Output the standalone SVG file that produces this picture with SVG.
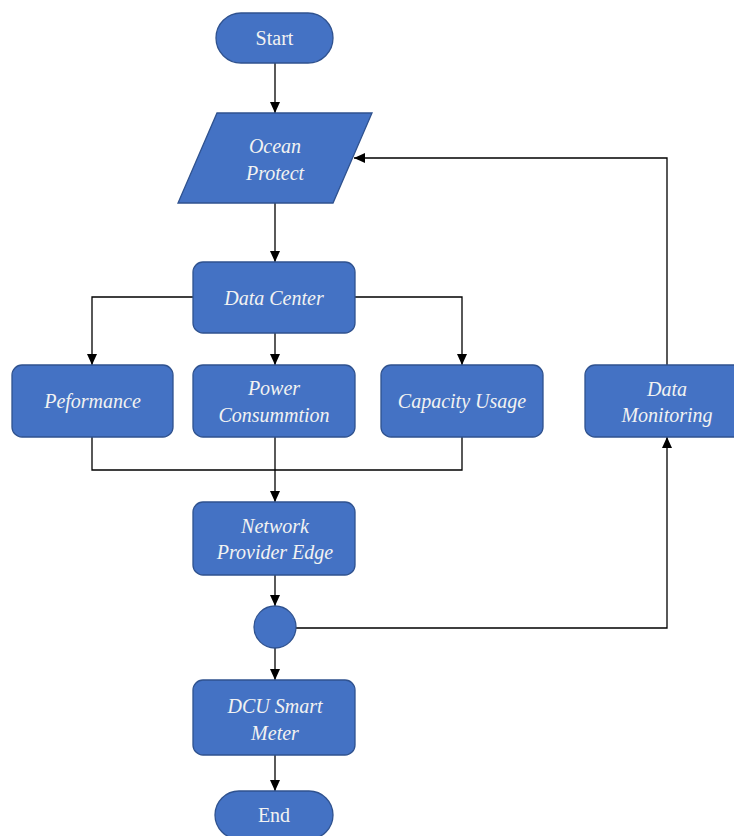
<svg xmlns="http://www.w3.org/2000/svg" width="734" height="836" viewBox="0 0 734 836">
  <style>
    .shape { fill: #4472C4; stroke: #2F528F; stroke-width: 1.3; }
    .label { font-family: "Liberation Serif", "Times New Roman", serif; font-size: 20px; fill: #F2F2F2; text-anchor: middle; dominant-baseline: central; }
    .it { font-style: italic; }
    .wire { fill: none; stroke: #000; stroke-width: 1.3; }
    .arrow { marker-end: url(#head); }
  </style>
  <defs>
    <marker id="head" markerWidth="12" markerHeight="10" refX="11" refY="5" orient="auto" markerUnits="userSpaceOnUse">
      <path d="M0,0 L11,5 L0,10 Z" fill="#000"/>
    </marker>
  </defs>
  <rect width="734" height="836" fill="#FFFFFF"/>

  <g id="connectors">
    <path class="wire arrow" d="M275,63 L275,113"/>
    <path class="wire arrow" d="M275,203 L275,262"/>
    <path class="wire arrow" d="M193,297 L92,297 L92,365"/>
    <path class="wire arrow" d="M275,333 L275,365"/>
    <path class="wire arrow" d="M355,297 L462,297 L462,365"/>
    <path class="wire" d="M92,437 L92,470 L462,470 L462,437"/>
    <path class="wire arrow" d="M275,437 L275,502"/>
    <path class="wire arrow" d="M275,575 L275,606"/>
    <path class="wire arrow" d="M275,648 L275,680"/>
    <path class="wire arrow" d="M275,755 L275,791"/>
    <path class="wire arrow" d="M296,628 L667,628 L667,437"/>
    <path class="wire arrow" d="M667,365 L667,158 L354,158"/>
  </g>

  <g id="start">
    <rect class="shape" x="216" y="13" width="117" height="50" rx="25"/>
    <text class="label" x="274.5" y="38">Start</text>
  </g>

  <g id="ocean-protect">
    <polygon class="shape" points="217,113 372,113 333,203 178,203"/>
    <text class="label it" x="275" y="146">Ocean</text>
    <text class="label it" x="275" y="173">Protect</text>
  </g>

  <g id="data-center">
    <rect class="shape" x="193" y="262" width="162" height="71" rx="10"/>
    <text class="label it" x="274" y="298">Data Center</text>
  </g>

  <g id="performance">
    <rect class="shape" x="12" y="365" width="161" height="72" rx="10"/>
    <text class="label it" x="92.5" y="401">Peformance</text>
  </g>

  <g id="power-consumption">
    <rect class="shape" x="193" y="365" width="162" height="72" rx="10"/>
    <text class="label it" x="274" y="388">Power</text>
    <text class="label it" x="274" y="415">Consummtion</text>
  </g>

  <g id="capacity-usage">
    <rect class="shape" x="381" y="365" width="162" height="72" rx="10"/>
    <text class="label it" x="462" y="401">Capacity Usage</text>
  </g>

  <g id="data-monitoring">
    <rect class="shape" x="585" y="365" width="162" height="72" rx="10"/>
    <text class="label it" x="667" y="389">Data</text>
    <text class="label it" x="667" y="415">Monitoring</text>
  </g>

  <g id="network-provider-edge">
    <rect class="shape" x="193" y="502" width="162" height="73" rx="10"/>
    <text class="label it" x="275" y="526">Network</text>
    <text class="label it" x="275" y="552">Provider Edge</text>
  </g>

  <g id="junction">
    <circle class="shape" cx="275" cy="627" r="21"/>
  </g>

  <g id="dcu-smart-meter">
    <rect class="shape" x="193" y="680" width="162" height="75" rx="10"/>
    <text class="label it" x="275" y="706">DCU Smart</text>
    <text class="label it" x="275" y="733">Meter</text>
  </g>

  <g id="end">
    <rect class="shape" x="215" y="791" width="118" height="48" rx="24"/>
    <text class="label" x="274" y="815">End</text>
  </g>
</svg>
